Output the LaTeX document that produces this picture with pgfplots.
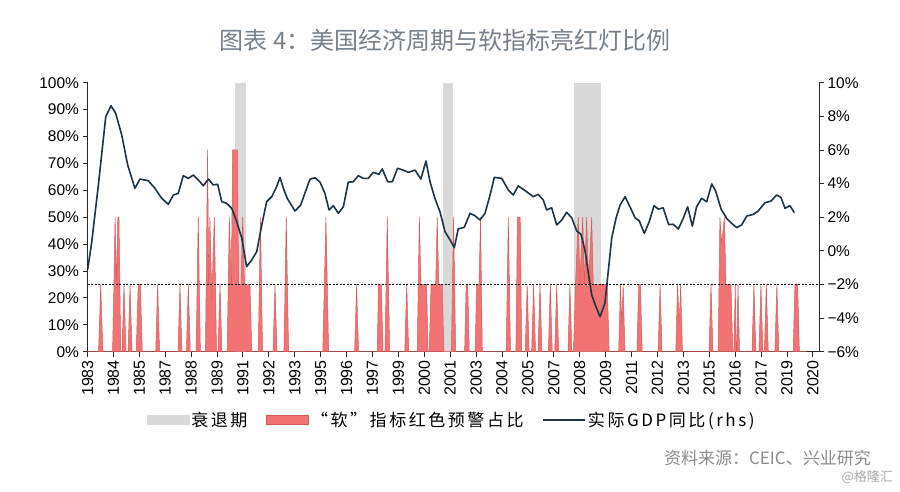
\documentclass[border=0pt]{standalone}
\usepackage{fontspec}
\setmainfont{Liberation Sans}
\newfontfamily\cjk{Noto Sans CJK SC}
\newfontfamily\cjkleg[LetterSpace=15]{Noto Sans CJK SC}
\usepackage{pgfplots}
\pgfplotsset{compat=1.18}
\definecolor{recg}{RGB}{217,217,217}
\definecolor{redf}{RGB}{242,115,115}
\definecolor{rede}{RGB}{214,90,90}
\definecolor{gdpc}{RGB}{28,52,68}
\definecolor{titlec}{RGB}{118,128,138}
\definecolor{srcc}{RGB}{140,140,140}
\definecolor{wmc}{RGB}{170,170,170}
\definecolor{axc}{RGB}{40,40,40}
\begin{document}
\begin{tikzpicture}
\path[use as bounding box] (0,0) rectangle (900pt,491pt);
\node[text=titlec, font=\cjk\fontsize{24}{26}\selectfont, inner sep=0] at (445pt,451pt) {图表 4：美国经济周期与软指标亮红灯比例};
\begin{axis}[
  at={(87.5pt,139.3pt)}, anchor=south west, scale only axis,
  width=731.5pt, height=269pt,
  xmin=1983, xmax=2020.65, ymin=0, ymax=100,
  axis x line*=bottom, axis y line*=left,
  axis line style={axc, line width=0.9pt},
  tick align=outside, major tick length=5pt,
  tick style={axc, line width=0.9pt},
  xtick={1983.000,1984.333,1985.667,1987.000,1988.333,1989.667,1991.000,1992.333,1993.667,1995.000,1996.333,1997.667,1999.000,2000.333,2001.667,2003.000,2004.333,2005.667,2007.000,2008.333,2009.667,2011.000,2012.333,2013.667,2015.000,2016.333,2017.667,2019.000,2020.333},
  xticklabels={1983,1984,1985,1987,1988,1989,1991,1992,1993,1995,1996,1997,1999,2000,2001,2003,2004,2005,2007,2008,2009,2011,2012,2013,2015,2016,2017,2019,2020},
  x tick label style={rotate=90, anchor=east, font=\fontsize{16}{18}\selectfont},
  ytick={0,10,...,100},
  yticklabels={0\%,10\%,20\%,30\%,40\%,50\%,60\%,70\%,80\%,90\%,100\%},
  y tick label style={font=\fontsize{15.5}{18}\selectfont},
  clip=true,
]
\addplot[fill=recg, draw=none] coordinates {(1990.58,0) (1990.58,100) (1991.18,100) (1991.18,0)} -- cycle;
\addplot[fill=recg, draw=none] coordinates {(2001.28,0) (2001.28,100) (2001.82,100) (2001.82,0)} -- cycle;
\addplot[fill=recg, draw=none] coordinates {(2008.06,0) (2008.06,100) (2009.42,100) (2009.42,0)} -- cycle;
\addplot[fill=redf, draw=rede, line width=0.5pt, line join=round] coordinates {
(1983.0,0)
(1983.57,0)(1983.68,25)(1983.79,0)
(1984.29,0)(1984.36,25)(1984.42,50)(1984.50,25)(1984.56,50)(1984.62,50)(1984.71,0)
(1984.78,0)(1984.88,25)(1984.98,0)
(1985.09,0)(1985.19,25)(1985.29,0)
(1985.51,0)(1985.61,25)(1985.72,25)(1985.82,0)
(1986.51,0)(1986.61,25)(1986.71,0)
(1987.66,0)(1987.76,25)(1987.86,0)
(1988.09,0)(1988.19,25)(1988.29,0)
(1988.59,0)(1988.70,50)(1988.81,0)
(1989.07,0)(1989.18,75)(1989.24,25)(1989.30,50)(1989.40,20)(1989.53,50)(1989.64,0)
(1989.72,0)(1989.82,25)(1989.92,0)
(1990.19,0)(1990.30,50)(1990.40,25)(1990.47,75)(1990.71,75)(1990.78,25)(1990.90,25)(1990.99,50)(1991.08,25)(1991.36,25)(1991.46,0)
(1991.79,0)(1991.90,50)(1992.01,0)
(1992.55,0)(1992.65,25)(1992.75,0)
(1993.11,0)(1993.23,50)(1993.35,0)
(1995.11,0)(1995.27,50)(1995.41,0)
(1996.75,0)(1996.85,25)(1996.95,0)
(1997.91,0)(1997.98,25)(1998.12,25)(1998.21,0)(1998.31,0)(1998.43,50)(1998.55,0)
(1999.33,0)(1999.43,25)(1999.53,0)
(1999.97,0)(2000.08,50)(2000.16,25)(2000.45,25)(2000.53,0)(2000.59,0)(2000.68,25)(2000.92,25)(2001.00,50)(2001.08,25)(2001.26,25)(2001.34,0)
(2001.73,0)(2001.84,50)(2001.95,0)
(2002.41,0)(2002.49,25)(2002.57,25)(2002.65,0)
(2002.95,0)(2003.03,25)(2003.15,25)(2003.23,50)(2003.32,0)
(2004.55,0)(2004.66,50)(2004.77,0)
(2005.05,0)(2005.13,50)(2005.27,50)(2005.35,0)
(2005.53,0)(2005.63,25)(2005.73,0)
(2005.86,0)(2005.96,25)(2006.06,0)
(2006.19,0)(2006.29,25)(2006.39,0)
(2006.72,0)(2006.82,25)(2006.92,0)
(2007.05,0)(2007.15,25)(2007.25,0)
(2007.73,0)(2007.83,25)(2007.93,0)
(2008.01,0)(2008.12,25)(2008.26,50)(2008.34,25)(2008.49,50)(2008.57,25)(2008.69,50)(2008.79,25)(2008.95,50)(2009.03,25)(2009.75,25)(2009.85,0)
(2010.34,0)(2010.43,25)(2010.50,10)(2010.57,25)(2010.66,0)
(2011.28,0)(2011.37,25)(2011.46,25)(2011.55,0)
(2012.37,0)(2012.47,25)(2012.57,0)
(2013.28,0)(2013.37,25)(2013.45,10)(2013.53,25)(2013.62,0)
(2014.99,0)(2015.09,25)(2015.19,0)
(2015.46,0)(2015.55,50)(2015.64,40)(2015.78,50)(2015.86,25)(2016.12,25)(2016.21,0)
(2016.27,0)(2016.34,25)(2016.39,0)(2016.42,0)(2016.48,25)(2016.56,0)
(2017.20,0)(2017.30,25)(2017.40,0)
(2017.56,0)(2017.66,25)(2017.76,0)
(2017.84,0)(2017.94,25)(2018.04,0)
(2018.38,0)(2018.48,25)(2018.58,0)
(2019.32,0)(2019.41,25)(2019.55,25)(2019.64,0)
(2020.0,0)
} \closedcycle;
\addplot[black, line width=0.9pt, dash pattern=on 2pt off 1.5pt] coordinates {(1983,25) (2020.65,25)};
\end{axis}
\begin{axis}[
  at={(87.5pt,139.3pt)}, anchor=south west, scale only axis,
  width=731.5pt, height=269pt,
  xmin=1983, xmax=2020.65, ymin=-6, ymax=10,
  axis x line=none, axis y line*=right,
  axis line style={axc, line width=0.9pt},
  tick align=outside, major tick length=5pt,
  tick style={axc, line width=0.9pt},
  ytick={-6,-4,...,10},
  yticklabels={−6\%,−4\%,−2\%,0\%,2\%,4\%,6\%,8\%,10\%},
  y tick label style={font=\fontsize{15.5}{18}\selectfont},
  legend columns=3,
  legend style={draw=none, fill=none, at={(0.498,-0.254)}, anchor=center,
    font=\cjkleg\fontsize{17}{19}\selectfont,
    /tikz/every even column/.append style={column sep=17pt}},
  legend cell align=left,
]
\addlegendimage{legend image code/.code={\fill[recg] (0pt,-4.5pt) rectangle (42pt,4.5pt);}}
\addlegendentry{衰退期}
\addlegendimage{legend image code/.code={\filldraw[fill=redf, draw=rede, line width=0.6pt] (0pt,-4.5pt) rectangle (42pt,4.5pt);}}
\addlegendentry{“软”指标红色预警占比}
\addplot[gdpc, line width=1.6pt, line join=round, legend image code/.code={\draw[gdpc, line width=1.4pt] (0pt,0pt) -- (42pt,0pt);}] coordinates {
(1983.01,-1.1)(1983.22,0.54)(1983.56,3.92)(1983.94,7.98)(1984.21,8.63)(1984.45,8.18)(1984.76,6.9)
(1985.07,5.1)(1985.44,3.72)(1985.70,4.27)(1986.13,4.17)(1986.47,3.72)(1986.82,3.12)(1987.16,2.77)
(1987.42,3.32)(1987.67,3.42)(1987.93,4.47)(1988.19,4.31)(1988.45,4.51)(1988.79,4.11)(1988.96,3.87)
(1989.22,4.27)(1989.47,3.92)(1989.70,3.96)(1989.91,2.92)(1990.16,2.83)(1990.42,2.53)(1990.59,2.03)
(1990.68,1.73)(1990.94,0.75)(1991.19,-0.94)(1991.45,-0.55)(1991.71,-0.05)(1991.97,1.54)(1992.22,2.92)
(1992.48,3.22)(1992.70,3.72)(1992.91,4.37)(1993.08,3.72)(1993.28,3.12)(1993.68,2.37)(1993.97,2.72)
(1994.25,3.62)(1994.45,4.26)(1994.71,4.35)(1994.97,4.08)(1995.22,3.42)(1995.43,2.43)(1995.65,2.69)
(1995.91,2.23)(1996.17,2.62)(1996.42,4.08)(1996.68,4.11)(1996.94,4.47)(1997.19,4.31)(1997.45,4.31)
(1997.71,4.67)(1998.00,4.55)(1998.17,4.87)(1998.45,4.11)(1998.69,4.11)(1998.96,4.91)(1999.25,4.8)
(1999.51,4.67)(1999.86,4.8)(2000.16,4.27)(2000.42,5.34)(2000.63,4.11)(2000.88,3.12)(2001.14,2.33)
(2001.40,1.14)(2001.66,0.65)(2001.88,0.19)(2002.08,1.3)(2002.39,1.4)(2002.69,2.23)(2002.94,2.09)
(2003.20,1.84)(2003.46,2.23)(2003.72,3.32)(2003.94,4.37)(2004.32,4.31)(2004.66,3.62)(2004.91,3.32)
(2005.17,3.86)(2005.55,3.56)(2005.94,3.22)(2006.20,3.36)(2006.46,3.02)(2006.63,2.43)(2006.89,2.56)
(2007.15,1.54)(2007.41,1.84)(2007.66,2.29)(2007.92,1.97)(2008.18,1.18)(2008.40,0.98)(2008.60,0.05)
(2008.77,-1.25)(2008.95,-2.62)(2009.17,-3.33)(2009.38,-3.92)(2009.63,-3.12)(2009.80,-1.25)(2009.98,0.75)
(2010.20,1.93)(2010.41,2.72)(2010.67,3.22)(2010.92,2.62)(2011.18,1.97)(2011.40,1.78)(2011.66,1.04)
(2011.91,1.73)(2012.16,2.69)(2012.38,2.48)(2012.63,2.56)(2012.91,1.56)(2013.15,1.58)(2013.41,1.3)
(2013.66,1.93)(2013.89,2.62)(2014.13,1.47)(2014.35,2.62)(2014.61,3.12)(2014.87,2.92)(2015.13,3.98)
(2015.33,3.56)(2015.61,2.48)(2015.90,1.93)(2016.15,1.64)(2016.41,1.38)(2016.67,1.54)(2016.93,2.07)
(2017.27,2.17)(2017.52,2.37)(2017.87,2.86)(2018.18,2.96)(2018.47,3.32)(2018.69,3.18)(2018.90,2.53)
(2019.15,2.69)(2019.38,2.27)
};
\addlegendentry{实际GDP同比(rhs)}
\end{axis}
\node[anchor=east, text=srcc, font=\cjk\fontsize{17}{19}\selectfont, inner sep=0] at (871pt,33pt) {资料来源：CEIC、兴业研究};
\node[anchor=east, text=wmc, font=\cjk\fontsize{13}{15}\selectfont, inner sep=0] at (893pt,14pt) {@格隆汇};
\end{tikzpicture}
\end{document}
